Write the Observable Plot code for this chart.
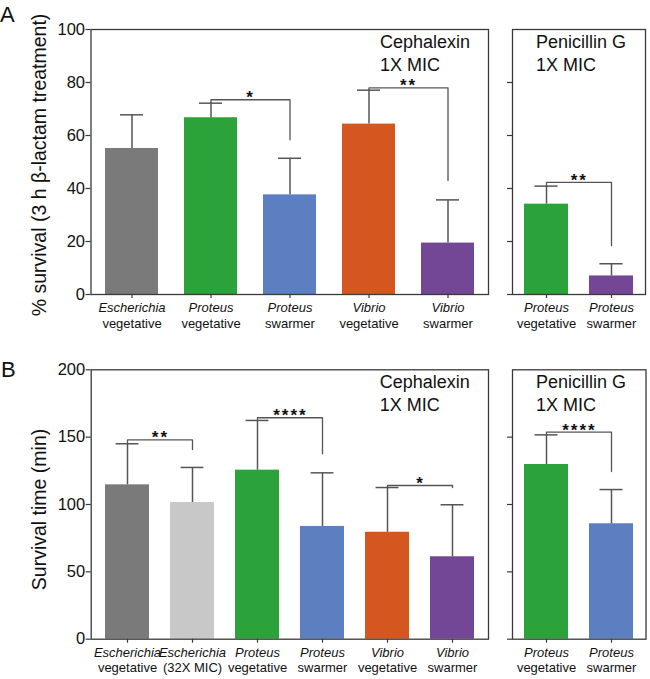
<!DOCTYPE html>
<html><head><meta charset="utf-8">
<script src="https://cdn.jsdelivr.net/npm/d3@7"></script>
<script src="https://cdn.jsdelivr.net/npm/@observablehq/plot@0.6"></script>
<style>
body{margin:0;background:#fff;font-family:"Liberation Sans",Arial,sans-serif;}
#wrap{position:relative;width:650px;height:679px;overflow:hidden;background:#fff;}
.p{position:absolute;}
.lab{position:absolute;font-size:22px;color:#111;line-height:1;}
</style></head><body><div id="wrap"></div>
<script>
// ---------- Panel A: % survival ----------
const aCephGenus = ["Escherichia","Proteus","Proteus","Vibrio","Vibrio"];
const aCephState = ["vegetative","vegetative","swarmer","vegetative","swarmer"];
const aCephMean  = [55.1, 66.7, 37.6, 64.3, 19.4];
const aCephSD    = [12.7, 5.5, 13.8, 12.8, 16.3];
const aCephColor = ["#7a7a7a","#2ca23b","#5b7fc1","#d3571f","#744796"];
const aCephSig   = [{a:1,b:2,y:73.5,end:58.4,label:"*"},{a:3,b:4,y:78.0,end:43.0,label:"**"}];

const aPenGenus = ["Proteus","Proteus"];
const aPenState = ["vegetative","swarmer"];
const aPenMean  = [34.1, 7.0];
const aPenSD    = [6.8, 4.6];
const aPenColor = ["#2ca23b","#744796"];
const aPenSig   = [{a:0,b:1,y:42.3,end:18.5,label:"**"}];

const aTicks = [0,20,40,60,80,100];
const aTitle = "% survival (3 h β-lactam treatment)";

// ---------- Panel B: survival time ----------
const bCephGenus = ["Escherichia","Escherichia","Proteus","Proteus","Vibrio","Vibrio"];
const bCephState = ["vegetative","(32X MIC)","vegetative","swarmer","vegetative","swarmer"];
const bCephMean  = [114.6, 101.5, 125.5, 83.7, 79.4, 61.2];
const bCephSD    = [30.5, 26.0, 36.9, 39.8, 33.2, 38.6];
const bCephColor = ["#7a7a7a","#c8c8c8","#2ca23b","#5b7fc1","#d3571f","#744796"];
const bCephSig   = [{a:0,b:1,y:148.0,end:140.8,label:"**"},{a:2,b:3,y:164.4,end:137.6,label:"****"},{a:4,b:5,y:114.1,end:112.6,label:"*"}];

const bPenGenus = ["Proteus","Proteus"];
const bPenState = ["vegetative","swarmer"];
const bPenMean  = [129.7, 85.7];
const bPenSD    = [22.0, 25.4];
const bPenColor = ["#2ca23b","#5b7fc1"];
const bPenSig   = [{a:0,b:1,y:153.7,end:124.5,label:"****"}];

const bTicks = [0,50,100,150,200];
const bTitle = "Survival time (min)";

const FONT = '"Liberation Sans", Arial, sans-serif';
const AXIS = "#3a3a3a";
const ERR = "#555";

function panel(o) {
  const keys = o.genus.map((g,i) => i + " " + g + " " + o.state[i]);
  const rows = keys.map((k,i) => ({k, genus:o.genus[i], state:o.state[i], mean:o.mean[i], top:o.mean[i]+o.sd[i], color:o.color[i]}));
  const pI = 0.33, pO = 0.18;
  const plotW = o.width - o.mL - o.mR;
  const step = plotW / (keys.length - pI + 2*pO);
  const bw = step*(1-pI);
  const capInset = (bw - 23)/2;
  const br = o.sig.flatMap((s,j) => [
    {id:j, k:keys[s.a], y:rows[s.a].top},
    {id:j, k:keys[s.a], y:s.y},
    {id:j, k:keys[s.b], y:s.y},
    {id:j, k:keys[s.b], y:s.end}
  ]);
  const marks = [
    Plot.barY(rows, {x:"k", y:"mean", fill:"color"}),
    Plot.ruleX(rows, {x:"k", y1:"mean", y2:"top", stroke:ERR, strokeWidth:1.5}),
    Plot.tickY(rows, {x:"k", y:"top", stroke:ERR, strokeWidth:1.5, insetLeft:capInset, insetRight:capInset}),
    Plot.line(br, {x:"k", y:"y", z:"id", stroke:ERR, strokeWidth:1.3}),
    Plot.text(o.sig, {x:s => keys[s.a], y:"y", text:"label", dx:step/2, dy:3.5, lineAnchor:"bottom", fontSize:17, fontWeight:"bold", fill:"#111"}),
    Plot.frame({stroke:AXIS, strokeWidth:1.3}),
    Plot.axisY({ticks:o.ticks, tickSize:5, tickPadding:1, fontSize:16.5, label:null, stroke:AXIS, strokeWidth:1.2,
                tickFormat: o.showY ? (d => String(d)) : (() => "")}),
    Plot.axisX({tickSize:4, tickFormat:() => "", label:null, stroke:AXIS, strokeWidth:1.2}),
    Plot.text(rows, {x:"k", frameAnchor:"bottom", text:"genus", fontStyle:"italic", fontSize:13, lineAnchor:"bottom", dy:17.7, fill:"#111"}),
    Plot.text(rows, {x:"k", frameAnchor:"bottom", text:"state", fontSize:13, lineAnchor:"bottom", dy:33, fill:"#111"}),
    Plot.text([o.t1], {frameAnchor:"top-left", textAnchor:"start", lineAnchor:"bottom", dx:o.tdx, dy:18.5, fontSize:18, fill:"#111"}),
    Plot.text([o.t2], {frameAnchor:"top-left", textAnchor:"start", lineAnchor:"bottom", dx:o.tdx, dy:41, fontSize:18, fill:"#111"})
  ];
  if (o.yTitle) marks.push(Plot.text([o.yTitle], {frameAnchor:"left", textAnchor:"middle", rotate:-90, dx:-51, dy:o.tdy, fontSize:19.5, fill:"#111"}));
  const svg = Plot.plot({
    width:o.width, height:o.height,
    marginLeft:o.mL, marginRight:o.mR, marginTop:o.mT, marginBottom:o.mB,
    style:{fontFamily:FONT, color:"#111", background:"transparent", overflow:"visible"},
    x:{type:"band", domain:keys, paddingInner:pI, paddingOuter:pO},
    y:{domain:[0,o.ymax]},
    color:{type:"identity"},
    marks
  });
  d3.select(svg).selectAll("text").filter(function() { return /^\*+$/.test(this.textContent); })
    .style("letter-spacing", "2px");
  const div = document.createElement("div");
  div.className = "p";
  div.style.left = o.left + "px";
  div.style.top = o.top + "px";
  div.appendChild(svg);
  document.getElementById("wrap").appendChild(div);
}

panel({genus:aCephGenus, state:aCephState, mean:aCephMean, sd:aCephSD, color:aCephColor, sig:aCephSig,
  ymax:100, ticks:aTicks, showY:true, yTitle:aTitle, tdy:3, t1:"Cephalexin", t2:"1X MIC", tdx:289,
  left:0, top:0, width:492, height:340, mL:90.5, mR:4, mT:29, mB:46});
panel({genus:aPenGenus, state:aPenState, mean:aPenMean, sd:aPenSD, color:aPenColor, sig:aPenSig,
  ymax:100, ticks:aTicks.slice(0,5), showY:false, t1:"Penicillin G", t2:"1X MIC", tdx:23.5,
  left:500, top:0, width:150, height:340, mL:12, mR:5, mT:29, mB:46});
panel({genus:bCephGenus, state:bCephState, mean:bCephMean, sd:bCephSD, color:bCephColor, sig:bCephSig,
  ymax:200, ticks:bTicks, showY:true, yTitle:bTitle, tdy:5, t1:"Cephalexin", t2:"1X MIC", tdx:288.6,
  left:0, top:340, width:492, height:339, mL:90.7, mR:4, mT:29.3, mB:40.3});
panel({genus:bPenGenus, state:bPenState, mean:bPenMean, sd:bPenSD, color:bPenColor, sig:bPenSig,
  ymax:200, ticks:bTicks.slice(0,4), showY:false, t1:"Penicillin G", t2:"1X MIC", tdx:23.5,
  left:500, top:340, width:150, height:339, mL:12, mR:4.5, mT:29.3, mB:40.3});

const wrap = document.getElementById("wrap");
for (const [t, x, y] of [["A", 0, 4], ["B", 1, 359]]) {
  const d = document.createElement("div");
  d.className = "lab"; d.textContent = t;
  d.style.left = x + "px"; d.style.top = y + "px";
  wrap.appendChild(d);
}
</script></body></html>
